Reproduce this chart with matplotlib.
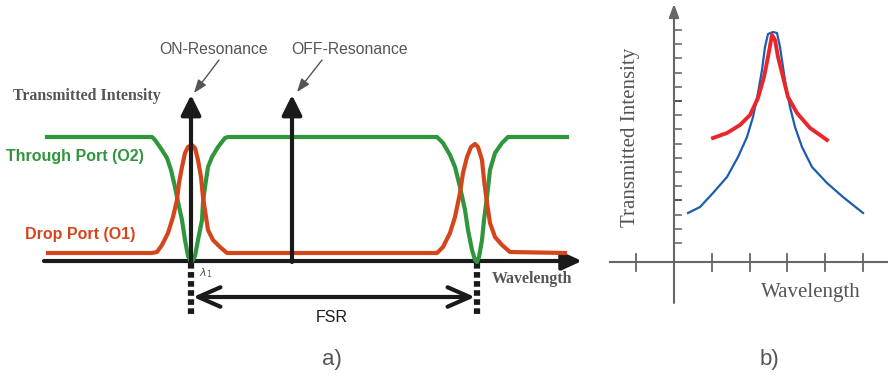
import matplotlib.pyplot as plt

# panel a) ring resonator ports (pixel-like schematic coords)
through_x = [47, 152, 155, 162, 167, 171, 175, 178, 182, 185, 188, 191,
             193, 195, 198, 202, 203, 205, 208, 212, 218, 225, 228,
             437, 443, 450, 455, 460, 465, 468, 472, 475, 477,
             479, 482, 484, 487, 490, 495, 502, 508, 567]
through_y = [137, 137, 140, 150, 158, 170, 187, 202, 220, 240, 256, 262,
             260, 256, 240, 220, 202, 187, 167, 157, 147, 138, 137,
             137, 143, 155, 167, 187, 210, 230, 250, 260, 262,
             257, 240, 220, 197, 170, 153, 143, 137, 137]

drop_x = [48, 152, 157, 162, 168, 173, 177, 179, 182, 185, 188, 192,
          195, 198, 201, 203, 206, 208, 213, 220, 227,
          437, 443, 450, 455, 460, 463, 467, 471, 475,
          478, 482, 484, 487, 490, 495, 502, 510, 565]
drop_y = [253, 253, 252, 245, 233, 217, 200, 183, 167, 153, 147, 145,
          148, 160, 177, 197, 217, 230, 240, 247, 253,
          253, 247, 233, 217, 193, 173, 157, 147, 144,
          147, 160, 180, 203, 223, 237, 245, 252, 253]

resonance_x = [191, 292]        # ON / OFF resonance arrows
fsr_x = [191, 477]              # lambda_1 and next resonance

# panel b) measured transmission curves
blue_x = [688, 700, 713, 727, 738, 747, 753, 758, 762, 765, 768, 773, 777,
          780, 783, 786, 790, 795, 802, 812, 827, 843, 863]
blue_y = [213, 207, 193, 177, 157, 137, 117, 93, 70, 47, 34, 32, 33,
          47, 67, 87, 107, 127, 147, 167, 183, 197, 213]
red_x = [713, 727, 740, 750, 758, 764, 768, 772, 775, 778, 783, 788, 797, 810, 827]
red_y = [138, 133, 125, 115, 98, 77, 57, 35, 40, 57, 77, 97, 113, 128, 140]
b_xticks = [636, 712, 750, 787, 825, 863]
b_yticks = [30, 44, 58, 73, 87, 101, 115, 129, 144, 158, 172, 186, 200, 215, 229, 243]

GREEN = '#2f963c'
ORANGE = '#d4451c'
DARK = '#1a1a1a'
GREY = '#555555'

fig = plt.figure(figsize=(8.88, 3.77), dpi=100)
ax = fig.add_axes([0, 0, 1, 1])
ax.set_xlim(0, 888)
ax.set_ylim(377, 0)
ax.axis('off')

# ---- panel a ----
ax.plot(through_x, through_y, color=GREEN, lw=3, solid_joinstyle='round', zorder=3)
ax.plot(drop_x, drop_y, color=ORANGE, lw=3, solid_joinstyle='round', zorder=3)

# wavelength axis
ax.annotate('', xy=(582, 261), xytext=(44, 261),
            arrowprops=dict(arrowstyle='-|>,head_length=1.2,head_width=0.55',
                            lw=3, color=DARK, mutation_scale=10, shrinkA=0, shrinkB=0), zorder=2)
for rx in resonance_x:
    ax.annotate('', xy=(rx, 95), xytext=(rx, 262),
                arrowprops=dict(arrowstyle='-|>,head_length=1.2,head_width=0.6',
                                lw=3, color=DARK, mutation_scale=10, shrinkA=0, shrinkB=0), zorder=4)
# dotted markers
for fx in fsr_x:
    ax.plot([fx, fx], [263, 316], color=DARK, lw=4.5, linestyle=(0, (0.9, 0.55)),
            solid_capstyle='butt', dash_capstyle='butt', zorder=2)
ax.annotate('', xy=(fsr_x[1] - 2, 297), xytext=(fsr_x[0] + 2, 297),
            arrowprops=dict(arrowstyle='<->,head_length=1.6,head_width=0.7',
                            lw=3, color=DARK, mutation_scale=10, shrinkA=0, shrinkB=0))

# labels
ax.text(13, 96, 'Transmitted Intensity', family='Liberation Serif', weight='bold',
        fontsize=11.4, color=GREY, va='center', ha='left')
ax.text(492, 279, 'Wavelength', family='Liberation Serif', weight='bold',
        fontsize=11.4, color=GREY, va='center', ha='left')
ax.text(6, 156, 'Through Port (O2)', family='Liberation Sans', weight='bold',
        fontsize=11.5, color=GREEN, va='center', ha='left')
ax.text(25, 235, 'Drop Port (O1)', family='Liberation Sans', weight='bold',
        fontsize=11.5, color=ORANGE, va='center', ha='left')
ax.text(214, 49, 'ON-Resonance', family='Liberation Sans', fontsize=11.3,
        color=GREY, va='center', ha='center')
ax.text(350, 49, 'OFF-Resonance', family='Liberation Sans', fontsize=11.3,
        color=GREY, va='center', ha='center')
ax.annotate('', xy=(194, 93), xytext=(219, 60),
            arrowprops=dict(arrowstyle='-|>,head_length=0.8,head_width=0.3',
                            lw=1, color=GREY, mutation_scale=10, shrinkA=0, shrinkB=0))
ax.annotate('', xy=(297, 92), xytext=(322, 60),
            arrowprops=dict(arrowstyle='-|>,head_length=0.8,head_width=0.3',
                            lw=1, color=GREY, mutation_scale=10, shrinkA=0, shrinkB=0))
ax.text(199, 273, r'$\lambda_1$', fontsize=8, color=GREY, va='center', ha='left')
ax.text(332, 318, 'FSR', family='Liberation Sans', fontsize=11.5, color=DARK,
        va='center', ha='center')
ax.text(332, 360, 'a)', family='Liberation Sans', fontsize=16, color=GREY,
        va='center', ha='center')

# ---- panel b ----
AX_C = '#666666'
ax.plot([610, 888], [262, 262], color=AX_C, lw=1.5)
ax.annotate('', xy=(674, 4), xytext=(674, 303),
            arrowprops=dict(arrowstyle='-|>,head_length=0.8,head_width=0.3',
                            lw=1.5, color=AX_C, mutation_scale=10, shrinkA=0, shrinkB=0))
for tx in b_xticks:
    ax.plot([tx, tx], [254, 271], color=AX_C, lw=1.3)
for i, ty in enumerate(b_yticks):
    ax.plot([674, 681], [ty, ty], color='#444444' if i in (5, 12) else '#777777', lw=1.3)
ax.plot(blue_x, blue_y, color='#1f5cb0', lw=1.6, zorder=3)
ax.plot(red_x, red_y, color='#e8262b', lw=2.8, zorder=4)
ax.text(630, 137, 'Transmitted Intensity', family='Liberation Serif', fontsize=15,
        color=GREY, rotation=90, va='center', ha='center')
ax.text(811, 292, 'Wavelength', family='Liberation Serif', fontsize=15,
        color=GREY, va='center', ha='center')
ax.text(769, 360, 'b)', family='Liberation Sans', fontsize=16, color=GREY,
        va='center', ha='center')

fig.savefig('out.png', dpi=100)
